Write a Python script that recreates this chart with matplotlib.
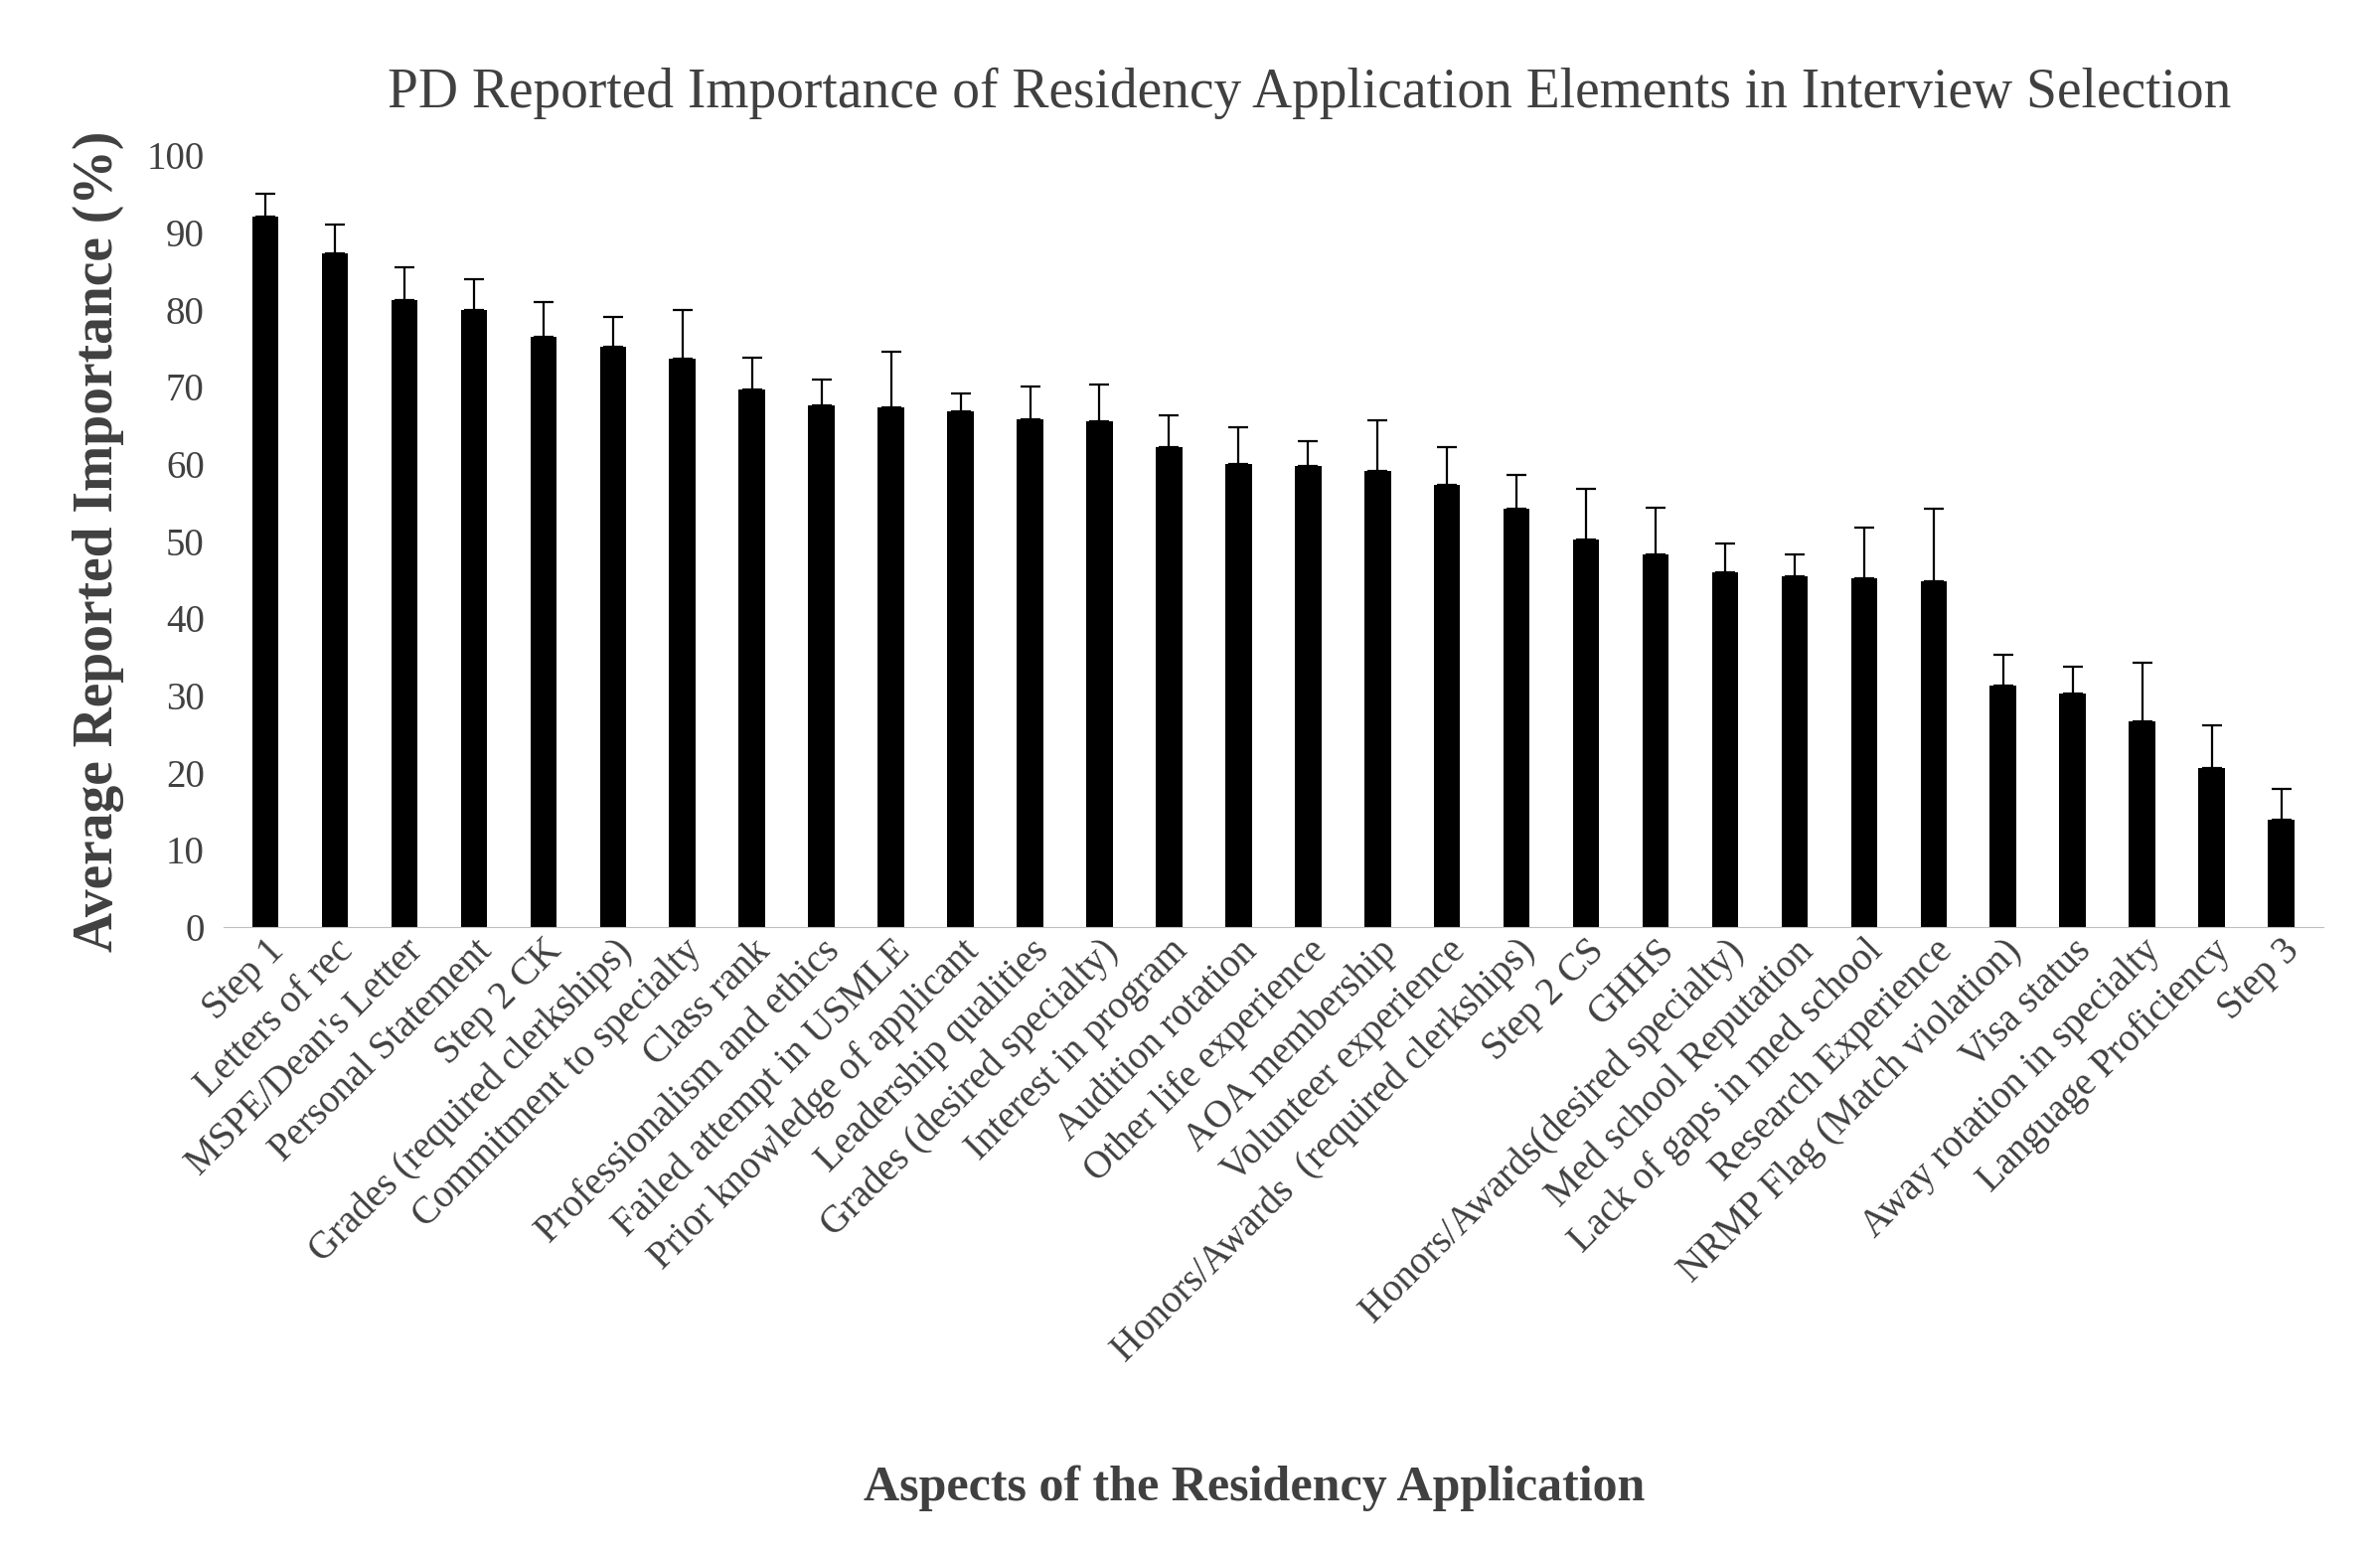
import matplotlib
matplotlib.use("Agg")
import matplotlib.pyplot as plt
import numpy as np

categories = ["Step 1","Letters of rec","MSPE/Dean's Letter","Personal Statement","Step 2 CK",
"Grades (required clerkships)","Commitment to specialty","Class rank","Professionalism and ethics",
"Failed attempt in USMLE","Prior knowledge of applicant","Leadership qualities","Grades (desired specialty)",
"Interest in program","Audition rotation","Other life experience","AOA membership","Volunteer experience",
"Honors/Awards  (required clerkships)","Step 2 CS","GHHS","Honors/Awards(desired specialty)",
"Med school Reputation","Lack of gaps in med school","Research Experience","NRMP Flag (Match violation)",
"Visa status","Away rotation in specialty","Language Proficiency","Step 3"]
values = [92,87.3,81.3,80,76.5,75.2,73.7,69.6,67.6,67.3,66.8,65.8,65.6,62.2,60,59.8,59.1,57.3,54.2,
50.2,48.3,46,45.4,45.2,44.8,31.3,30.3,26.7,20.6,13.9]
errors = [3,3.7,4.2,4,4.5,3.8,6.3,4.2,3.4,7.2,2.4,4.2,4.7,4.1,4.8,3.2,6.6,4.9,4.4,6.6,6,3.7,2.9,
6.6,9.4,4,3.5,7.5,5.5,4]

plt.rcParams["font.family"] = "Liberation Serif"
fig = plt.figure(figsize=(23.95,15.63), dpi=100)
ax = fig.add_axes([0.094,0.403,0.882,0.497])
x = np.arange(len(categories))
ax.bar(x, values, width=0.38, color="black",
       yerr=[np.zeros(len(errors)), errors], error_kw=dict(ecolor="black", capsize=7, elinewidth=1.6, capthick=1.6))
ax.set_xlim(-0.6, len(categories)-0.4)
ax.set_ylim(0,100)
ax.set_yticks(range(0,101,10))
ax.tick_params(axis="y", length=0, labelsize=28, colors="#404040", pad=14)
ax.tick_params(axis="x", length=0, labelsize=28, colors="#404040", pad=4)
ax.set_xticks(x)
ax.set_xticklabels(categories, rotation=45, ha="right", rotation_mode="anchor")
for s in ["top","right","left"]:
    ax.spines[s].set_visible(False)
ax.spines["bottom"].set_color("#bfbfbf")
ax.set_ylabel("Average Reported Importance (%)", fontsize=40, fontweight="bold", color="#404040", labelpad=16)
fig.text(0.55, 0.94, "PD Reported Importance of Residency Application Elements in Interview Selection",
         ha="center", va="center", fontsize=40, color="#404040")
fig.text(0.527, 0.042, "Aspects of the Residency Application", ha="center", va="center",
         fontsize=36, fontweight="bold", color="#404040")
fig.savefig("out.png", dpi=100, facecolor="white")
